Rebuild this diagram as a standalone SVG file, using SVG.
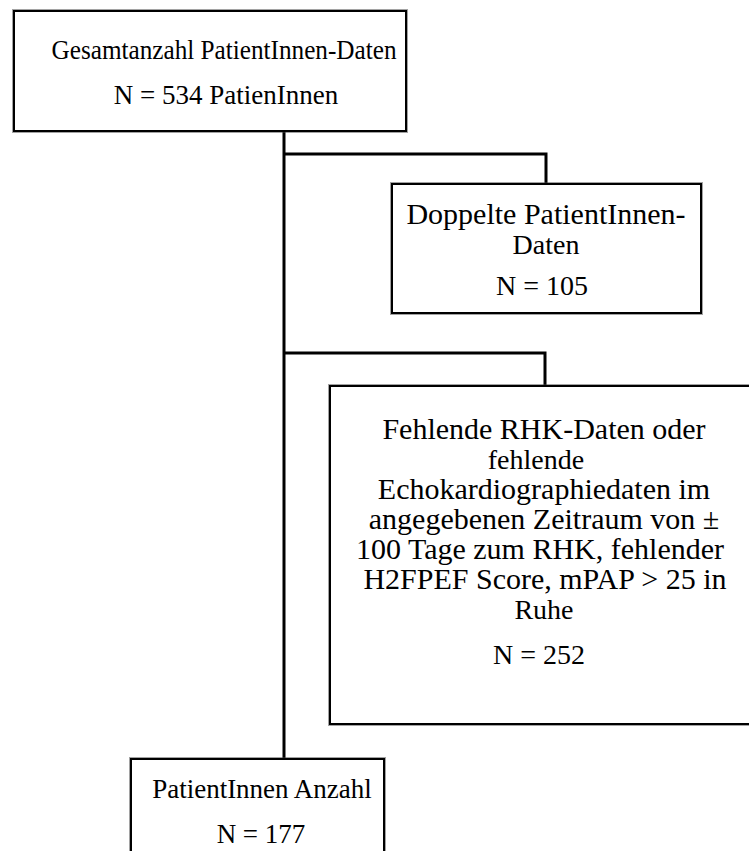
<svg xmlns="http://www.w3.org/2000/svg" width="749" height="851" viewBox="0 0 749 851">
<style>
.box{fill:#fff;stroke:#000;stroke-width:2}
.boxo{fill:none;stroke:#444;stroke-width:1;stroke-dasharray:1 1}
.t{font-family:"Liberation Serif","Times New Roman",serif;font-size:27px;fill:#000;text-anchor:middle}
.t2{font-size:28px}
.t3{font-size:30px}
.c{fill:none;stroke:#000;stroke-width:3}
</style>
<rect width="749" height="851" fill="#fff"/>
<g id="connectors">
<path class="c" d="M284,132 V758"/>
<path class="c" d="M284,154 H546 V183"/>
<path class="c" d="M284,353 H545 V385"/>
</g>
<g id="n1">
<rect class="box" x="14" y="11" width="392" height="120"/>
<rect class="boxo" x="12.5" y="9.5" width="395" height="123"/>
<text class="t" x="224" y="59" textLength="345" lengthAdjust="spacingAndGlyphs">Gesamtanzahl PatientInnen-Daten</text>
<text class="t" x="226" y="104">N = 534 PatienInnen</text>
</g>
<g id="n2">
<rect class="box" x="392" y="184" width="309" height="129"/>
<rect class="boxo" x="390.5" y="182.5" width="312" height="132"/>
<text class="t t3" x="546" y="224">Doppelte PatientInnen-</text>
<text class="t t2" x="546" y="254">Daten</text>
<text class="t t2" x="542" y="295">N = 105</text>
</g>
<g id="n3">
<rect class="box" x="330" y="386" width="440" height="338"/>
<rect class="boxo" x="328.5" y="384.5" width="443" height="341"/>
<text class="t t3" x="544" y="439">Fehlende RHK-Daten oder</text>
<text class="t t2" x="536" y="469">fehlende</text>
<text class="t t3" x="544" y="499">Echokardiographiedaten im</text>
<text class="t t3" x="544" y="529">angegebenen Zeitraum von ±</text>
<text class="t t3" x="540" y="559">100 Tage zum RHK, fehlender</text>
<text class="t t3" x="545" y="589">H2FPEF Score, mPAP &gt; 25 in</text>
<text class="t t2" x="544" y="619">Ruhe</text>
<text class="t t2" x="539" y="664">N = 252</text>
</g>
<g id="n4">
<rect class="box" x="131" y="759" width="253" height="100"/>
<rect class="boxo" x="129.5" y="757.5" width="256" height="103"/>
<text class="t" x="262" y="798">PatientInnen Anzahl</text>
<text class="t" x="261" y="843">N = 177</text>
</g>
</svg>
